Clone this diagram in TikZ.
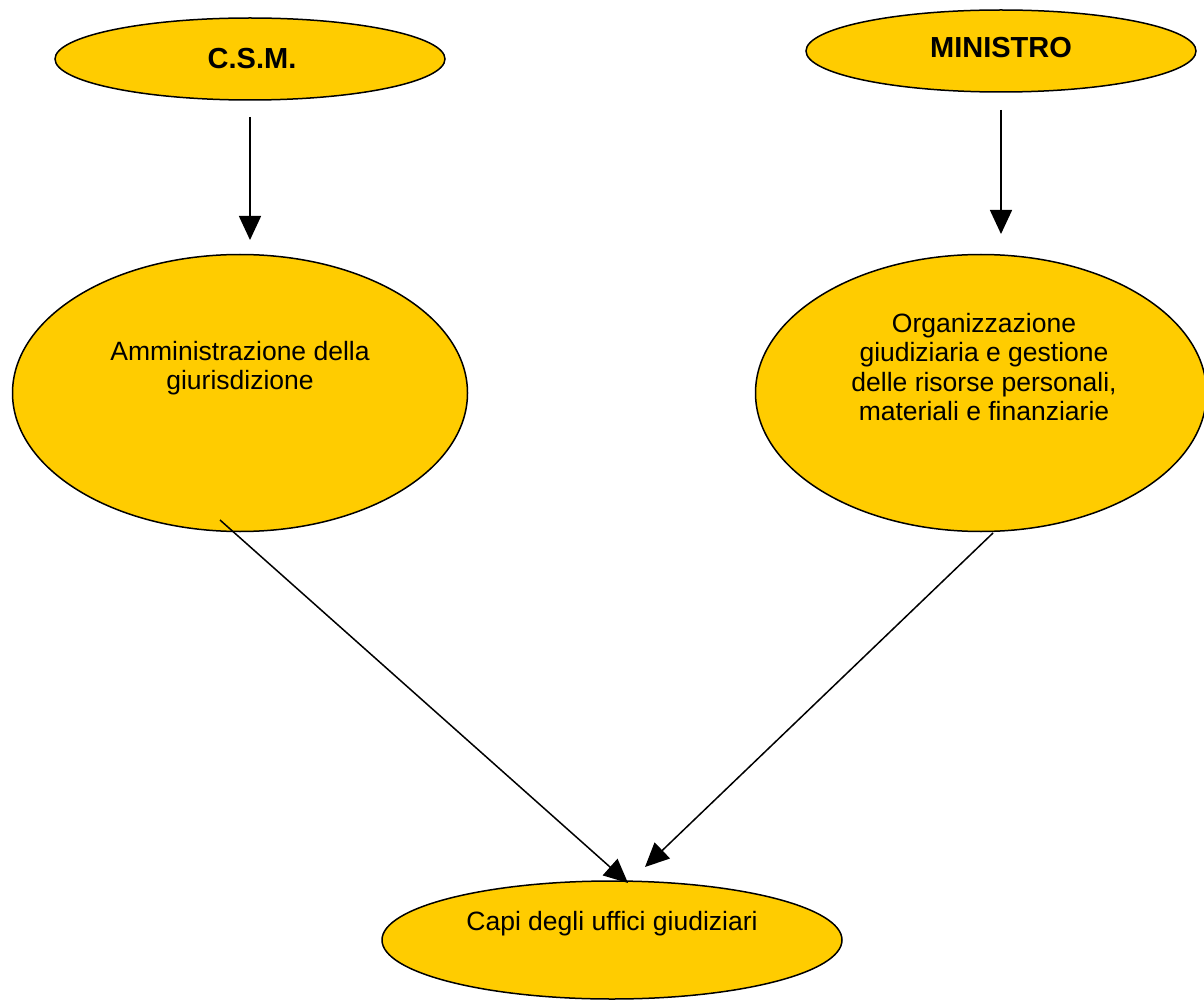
\documentclass[tikz,border=0pt]{standalone}
\usepackage{fontspec}
\setmainfont{Liberation Sans}
\usetikzlibrary{arrows.meta,shapes.geometric,calc}

\begin{document}
\begin{tikzpicture}[x=1pt,y=-1pt,
    organo/.style={ellipse,draw,line width=1.5pt,fill=giallo,inner sep=0pt},
    testo/.style={align=center,font=\fontsize{26.5}{29.5}\selectfont},
    titolo/.style={font=\fontsize{29}{32}\selectfont\bfseries},
    post/.style={-{Triangle[length=24pt,width=22pt]},line width=1.5pt}
    ]
\definecolor{giallo}{HTML}{FFCC00}
\useasboundingbox (0,0) rectangle (1204,1000);

\node[organo,minimum width=390pt,minimum height=82pt] (csm) at (250,59) {};
\node[organo,minimum width=390pt,minimum height=82pt] (min) at (1001,51) {};
\node[organo,minimum width=455pt,minimum height=277pt] (amm) at (240,393) {};
\node[organo,minimum width=451pt,minimum height=277pt] (org) at (981,393) {};
\node[organo,minimum width=460pt,minimum height=118pt] (capi) at (612,940) {};

\node[titolo] (tcsm) at (252,59) {C.S.M.};
\node[titolo] (tmin) at (1001,48) {MINISTRO};
\node[testo] (tamm) at (240,368) {Amministrazione della\\giurisdizione};
\node[testo] (torg) at (984,367) {Organizzazione\\giudiziaria e gestione\\delle risorse personali,\\materiali e finanziarie};
\node[testo] (tcapi) at (612,924) {Capi degli uffici giudiziari};

\coordinate (c1) at (250,117);
\coordinate (c2) at (250,240);
\coordinate (m1) at (1001,110);
\coordinate (m2) at (1001,234);
\coordinate (a1) at (220,520);
\coordinate (a2) at (628,883);
\coordinate (b1) at (993,533);
\coordinate (b2) at (645,867);

\draw[post] (c1) -- (c2);
\draw[post] (m1) -- (m2);
\draw[post] (a1) -- (a2);
\draw[post] (b1) -- (b2);

\end{tikzpicture}
\end{document}
